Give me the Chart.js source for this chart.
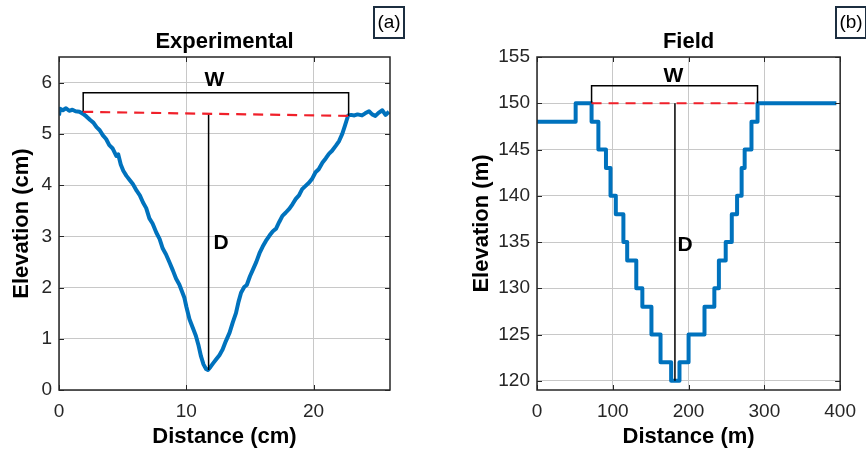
<!DOCTYPE html>
<html>
<head>
<meta charset="utf-8">
<script src="https://cdn.jsdelivr.net/npm/chart.js@4/dist/chart.umd.min.js"></script>
<style>
  html, body { margin: 0; padding: 0; background: #fff; }
  #wrap { position: relative; width: 866px; height: 454px; overflow: hidden; }
  canvas { position: absolute; top: 0; }
</style>
</head>
<body>
<div id="wrap">
  <canvas id="expChart" width="433" height="454" style="left:0"></canvas>
  <canvas id="fieldChart" width="433" height="454" style="left:433px"></canvas>
</div>
<script>
// ---- (a) Experimental channel cross-section ----
const expDistance = [0.00,0.08,0.30,0.55,0.80,1.05,1.30,1.60,1.90,2.15,2.45,2.70,2.95,3.20,3.45,3.70,3.95,4.20,4.50,4.65,
  4.85,5.05,5.30,5.55,5.80,6.10,6.35,6.60,6.85,7.10,7.35,7.65,7.90,8.15,8.40,8.70,8.95,9.20,9.45,9.70,
  9.85,10.00,10.25,10.50,10.75,10.95,11.15,11.35,11.55,11.70,11.90,12.10,12.35,12.60,12.85,13.10,13.40,13.65,13.90,14.10,
  14.30,14.55,14.75,15.00,15.25,15.50,15.75,16.00,16.25,16.55,16.80,17.05,17.30,17.55,17.80,18.10,18.35,18.60,18.85,19.10,
  19.35,19.65,19.90,20.15,20.40,20.70,20.95,21.20,21.45,21.75,22.00,22.25,22.45,22.60,22.72,22.95,23.20,23.45,23.80,24.05,
  24.35,24.60,24.85,25.10,25.40,25.65,25.92];
const expElevation = [5.36,5.49,5.46,5.50,5.45,5.47,5.44,5.43,5.39,5.34,5.27,5.22,5.13,5.07,4.97,4.90,4.78,4.72,4.57,4.60,
  4.40,4.28,4.18,4.10,4.02,3.89,3.80,3.66,3.55,3.35,3.25,3.07,2.95,2.76,2.65,2.48,2.33,2.17,2.06,1.90,
  1.80,1.63,1.38,1.22,1.06,0.88,0.66,0.50,0.41,0.39,0.45,0.52,0.60,0.68,0.79,0.95,1.12,1.32,1.50,1.72,
  1.90,2.01,2.05,2.22,2.36,2.50,2.67,2.80,2.91,3.02,3.10,3.15,3.28,3.40,3.46,3.54,3.63,3.73,3.80,3.92,
  3.98,4.05,4.13,4.25,4.31,4.44,4.52,4.61,4.67,4.77,4.86,5.00,5.15,5.27,5.36,5.37,5.36,5.38,5.36,5.40,
  5.44,5.38,5.35,5.41,5.46,5.37,5.43];
const expBankX = [1.9, 22.75];        // left / right bank
const expBankY = [5.43, 5.35];        // bank-full level at each bank
const expWidthBarY = 5.80;            // level of the W bracket
const expThalweg = { x: 11.75, top: 5.39, bottom: 0.39 };
const expXTicks = [0, 10, 20];
const expYTicks = [0, 1, 2, 3, 4, 5, 6];

// ---- (b) Field channel cross-section (stepped survey) ----
const fieldDistance = [0, 51, 72, 81, 91, 97, 104, 114, 119, 131, 139, 151, 163, 177,
  188, 200, 221, 234, 240, 249, 257, 264, 270, 274, 283, 291, 395];
const fieldElevation = [148, 150, 148, 145, 143, 140, 138, 135, 133, 130, 128, 125, 122, 120,
  122, 125, 128, 130, 133, 135, 138, 140, 143, 145, 148, 150, 150];
const fieldBankX = [72, 291];
const fieldBankY = [150, 150];
const fieldWidthBarY = 151.9;
const fieldThalweg = { x: 182, top: 150, bottom: 120 };
const fieldXTicks = [0, 100, 200, 300, 400];
const fieldYTicks = [120, 125, 130, 135, 140, 145, 150, 155];

const BLUE = '#0072BD';
const TICK_COLOR = '#262626';
const FONT = '"Liberation Sans", Arial, Helvetica, sans-serif';

// Axes box, inward tick marks, titles and annotation text
const framePlugin = {
  id: 'frame',
  afterDraw(chart, args, o) {
    const { ctx, chartArea: { left, right, top, bottom }, scales: { x, y } } = chart;
    ctx.save();
    ctx.strokeStyle = TICK_COLOR;
    ctx.lineWidth = 1;
    const tl = 5;
    y.ticks.forEach(t => {
      const py = Math.round(y.getPixelForValue(t.value)) + 0.5;
      ctx.beginPath();
      ctx.moveTo(left, py); ctx.lineTo(left + tl, py);
      ctx.moveTo(right, py); ctx.lineTo(right - tl, py);
      ctx.stroke();
    });
    x.ticks.forEach(t => {
      const px = Math.round(x.getPixelForValue(t.value)) + 0.5;
      ctx.beginPath();
      ctx.moveTo(px, bottom); ctx.lineTo(px, bottom - tl);
      ctx.moveTo(px, top); ctx.lineTo(px, top + tl);
      ctx.stroke();
    });
    ctx.lineWidth = 1.5;
    ctx.strokeRect(left, top, right - left, bottom - top);

    // title and axis titles
    ctx.fillStyle = '#000';
    ctx.textAlign = 'center';
    ctx.textBaseline = 'middle';
    ctx.font = 'bold 22px ' + FONT;
    ctx.fillText(o.title, (left + right) / 2, 42);
    ctx.fillText(o.xTitle, (left + right) / 2, 437);
    ctx.save();
    ctx.translate(o.yTitleX, (top + bottom) / 2);
    ctx.rotate(-Math.PI / 2);
    ctx.fillText(o.yTitle, 0, 0);
    ctx.restore();

    // W and D labels placed in data coordinates
    ctx.font = 'bold 21px ' + FONT;
    o.marks.forEach(m => {
      ctx.fillText(m.text, x.getPixelForValue(m.x), y.getPixelForValue(m.y));
    });

    // panel tag
    ctx.strokeStyle = '#1c2e40';
    ctx.lineWidth = 2;
    ctx.strokeRect(o.tagX, 7, 30, 31);
    ctx.font = '19px ' + FONT;
    ctx.fillStyle = '#000';
    ctx.fillText(o.tag, o.tagX + 15, 23);
    ctx.restore();
  }
};

function pts(xs, ys) { return xs.map((v, i) => ({ x: v, y: ys[i] })); }

function makeChart(id, cfg) {
  return new Chart(document.getElementById(id), {
    type: 'line',
    data: {
      datasets: [
        { data: pts(cfg.xs, cfg.ys), borderColor: BLUE, borderWidth: 4, pointRadius: 0,
          stepped: cfg.stepped || false, order: 4, borderJoinStyle: 'round' },
        { data: pts(cfg.bankX, cfg.bankY), borderColor: '#f0202a', borderWidth: 2.2,
          borderDash: [10, 7], pointRadius: 0, order: 1 },
        { data: [ { x: cfg.bankX[0], y: cfg.bankY[0] }, { x: cfg.bankX[0], y: cfg.barY },
                  { x: cfg.bankX[1], y: cfg.barY }, { x: cfg.bankX[1], y: cfg.bankY[1] } ],
          borderColor: '#000', borderWidth: 1.5, pointRadius: 0, order: 2 },
        { data: [ { x: cfg.thal.x, y: cfg.thal.top }, { x: cfg.thal.x, y: cfg.thal.bottom } ],
          borderColor: '#000', borderWidth: 1.5, pointRadius: 0, order: 3 }
      ]
    },
    options: {
      responsive: false,
      animation: false,
      devicePixelRatio: 1,
      layout: { padding: { left: 0, top: 57, right: cfg.padRight, bottom: 0 } },
      plugins: { legend: { display: false }, tooltip: { enabled: false }, frame: cfg.frame },
      scales: {
        x: {
          type: 'linear', min: cfg.xMin, max: cfg.xMax,
          afterBuildTicks: s => { s.ticks = cfg.xTicks.map(v => ({ value: v })); },
          afterFit: s => { s.height = 64; },
          grid: { color: '#c8c8c8', lineWidth: 1, drawTicks: false },
          border: { display: false },
          ticks: { color: TICK_COLOR, font: { family: FONT, size: 19 }, padding: 10, maxRotation: 0 }
        },
        y: {
          type: 'linear', min: cfg.yMin, max: cfg.yMax,
          afterBuildTicks: s => { s.ticks = cfg.yTicks.map(v => ({ value: v })); },
          afterFit: s => { s.width = cfg.areaLeft; },
          grid: { color: '#c8c8c8', lineWidth: 1, drawTicks: false },
          border: { display: false },
          ticks: { color: TICK_COLOR, font: { family: FONT, size: 19 }, padding: 7 }
        }
      }
    },
    plugins: [framePlugin]
  });
}

makeChart('expChart', {
  xs: expDistance, ys: expElevation, bankX: expBankX, bankY: expBankY, barY: expWidthBarY, thal: expThalweg,
  xMin: 0, xMax: 26, yMin: 0, yMax: 6.5, xTicks: expXTicks, yTicks: expYTicks,
  areaLeft: 59, padRight: 43,
  frame: { title: 'Experimental', xTitle: 'Distance (cm)', yTitle: 'Elevation (cm)', yTitleX: 22,
           tag: '(a)', tagX: 374,
           marks: [ { text: 'W', x: 12.2, y: 6.05 }, { text: 'D', x: 12.74, y: 2.86 } ] }
});

makeChart('fieldChart', {
  xs: fieldDistance, ys: fieldElevation, stepped: 'before', bankX: fieldBankX, bankY: fieldBankY,
  barY: fieldWidthBarY, thal: fieldThalweg,
  xMin: 0, xMax: 400, yMin: 119, yMax: 155, xTicks: fieldXTicks, yTicks: fieldYTicks,
  areaLeft: 104, padRight: 16,
  frame: { title: 'Field', xTitle: 'Distance (m)', yTitle: 'Elevation (m)', yTitleX: 49,
           tag: '(b)', tagX: 403,
           marks: [ { text: 'W', x: 180, y: 152.95 }, { text: 'D', x: 195.5, y: 134.7 } ] }
});
</script>
</body>
</html>
